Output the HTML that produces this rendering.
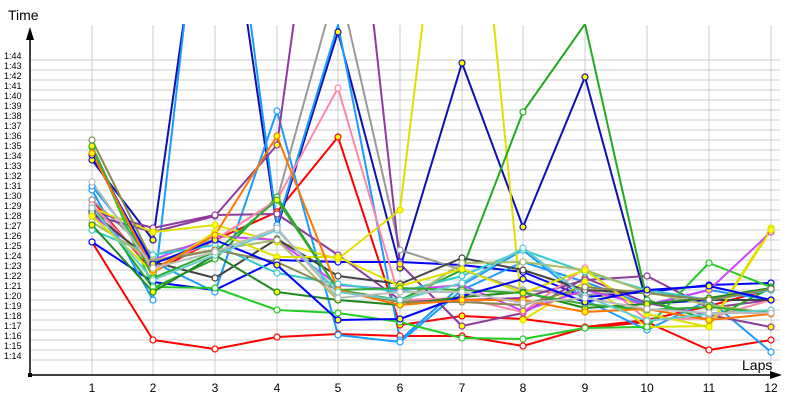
<!DOCTYPE html>
<html><head><meta charset="utf-8"><style>
html,body{margin:0;padding:0;background:#fff;width:800px;height:400px;overflow:hidden}
svg{display:block;font-family:"Liberation Sans","DejaVu Sans",sans-serif}
</style></head><body>
<svg id="s" width="800" height="400" viewBox="0 0 800 400" xmlns="http://www.w3.org/2000/svg">
<defs><clipPath id="c"><rect x="31" y="24" width="760" height="350"/></clipPath></defs>
<g id="grid"></g>
<g id="lines" clip-path="url(#c)"></g>
<g id="marks"></g>
<line x1="30" y1="375" x2="776" y2="375" stroke="#000" stroke-width="1.5"/>
<polygon points="782,375 770,371 770,379" fill="#000"/>
<line x1="30" y1="375" x2="30" y2="34" stroke="#000" stroke-width="1.5"/>
<polygon points="30,27 26,40 34,40" fill="#000"/>
<rect x="28" y="373" width="4" height="4" fill="#000"/>
<text x="8" y="20" font-size="14" fill="#000">Time</text>
<text x="742" y="370" font-size="14" fill="#000">Laps</text>
<g id="labels" font-size="9" fill="#000"></g>
</svg>
<script>
var NS="http://www.w3.org/2000/svg";
function el(t,a,p){var e=document.createElementNS(NS,t);for(var k in a)e.setAttribute(k,a[k]);document.getElementById(p).appendChild(e);return e;}
var X=[92,153,215,277,338,400,462,523,585,647,709,771];
for(var s=14;s<=44;s++){var y=60+(44-s)*10;el("line",{x1:31,y1:y,x2:780,y2:y,stroke:"#ccc","stroke-width":1},"grid");
var t=el("text",{x:4,y:y-1},"labels");t.textContent="1:"+s;}
X.forEach(function(x,i){el("line",{x1:x,y1:25,x2:x,y2:375,stroke:"#ccc","stroke-width":1},"grid");
var t=el("text",{x:x,y:392,"text-anchor":"middle","font-size":"12"},"labels");t.textContent=i+1;});
var S=[
["#ff0000",[242,340,349,337,334,336,336,346,328,322,350,340],0],
["#ff0000",[200,272,240,212,137,325,316,319,327,320,306,289],1],
["#0000ff",[242,282,290,260,262,262,265,272,297,292,285,283],0],
["#1010b0",[160,240,-200,228,32,268,63,227,77,304,300,290],1],
["#1a9cff",[190,300,-250,225,25,340,285,250,300,330,300,352],0],
["#1a9cff",[186,262,292,111,335,342,290,262,282,305,290,300],0],
["#999999",[200,255,240,200,-20,250,270,290,295,290,300,300],0],
["#8e3c9c",[215,232,216,145,-300,264,326,313,278,303,315,327],1],
["#8e3c9c",[211,228,215,214,255,300,300,298,280,276,308,300],0],
["#e0e000",[208,232,225,242,259,210,-300,320,282,327,326,228],1],
["#22aa22",[205,288,259,197,290,300,270,112,24,300,320,288],0],
["#22cc22",[147,287,288,310,313,322,338,339,328,327,263,287],0],
["#ff88aa",[205,268,240,200,88,300,298,312,268,320,318,300],0],
["#cc44ff",[215,260,236,240,285,290,285,311,290,305,290,232],1],
["#444444",[212,262,278,239,276,284,258,270,290,293,300,300],0],
["#33cccc",[230,255,245,273,284,292,276,250,272,290,300,290],0],
["#aabb66",[222,260,250,240,300,305,263,262,270,292,305,313],0],
["#e0e000",[216,272,232,257,257,286,269,293,270,314,327,230],1],
["#228822",[225,292,255,292,300,305,297,292,308,304,298,288],1],
["#888855",[140,262,250,262,290,302,302,305,287,293,300,289],0],
["#33aa33",[146,278,252,200,290,288,290,293,304,310,307,313],1],
["#0000ff",[155,264,240,265,320,319,296,279,302,290,286,300],1],
["#ff7700",[153,270,235,136,290,305,300,300,312,309,320,314],1],
["#66cccc",[208,280,255,230,292,300,283,248,296,321,314,310],0],
["#bbbbbb",[182,268,252,228,298,292,292,303,298,309,313,313],0]
];
S.forEach(function(sr){var pts=sr[1].map(function(y,i){return X[i]+","+y}).join(" ");
el("polyline",{points:pts,fill:"none",stroke:sr[0],"stroke-width":2,"stroke-linejoin":"round"},"lines");
sr[1].forEach(function(y,i){if(y>26&&y<372)el("circle",{cx:X[i],cy:y,r:3,fill:sr[2]?"#ffff00":"#fff",stroke:sr[0],"stroke-width":1.2},"marks");});});
</script>
</body></html>
